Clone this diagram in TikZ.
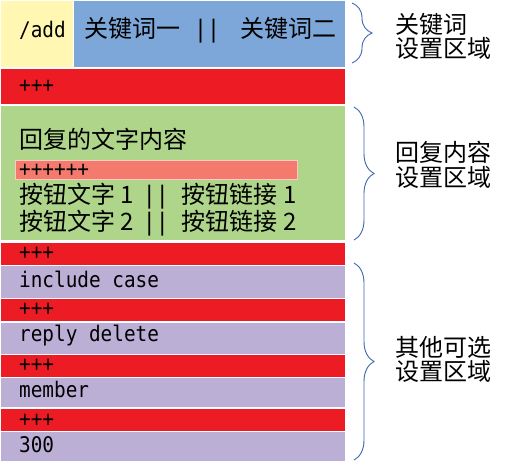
\documentclass[tikz,border=0pt]{standalone}
\usepackage{fontspec}
\setmainfont{Noto Sans CJK SC}
\newfontfamily\cjk{Noto Sans CJK SC}
\newfontfamily\monof[FakeStretch=0.9]{DejaVu Sans Mono}
\usetikzlibrary{decorations.pathreplacing}
\definecolor{cyel}{HTML}{FFF7B2}
\definecolor{cblue}{HTML}{7DA7D9}
\definecolor{cred}{HTML}{ED1C24}
\definecolor{cgreen}{HTML}{AFD58B}
\definecolor{csalmon}{HTML}{F47A6E}
\definecolor{cpurple}{HTML}{BCAFD6}
\definecolor{cbrace}{HTML}{3F68B0}
\begin{document}
\begin{tikzpicture}[x=1pt,y=-1pt,
  blk/.style={inner sep=0pt,outer sep=0pt,anchor=north west,draw=none},
  cj/.style={inner sep=0pt,font=\cjk\fontsize{24}{26}\selectfont},
  mo/.style={inner sep=0pt,font=\monof\fontsize{21.5}{24}\selectfont},
  lab/.style={inner sep=0pt,anchor=west,align=left,font=\cjk\fontsize{24}{24.5}\selectfont},
  brc/.style={draw=cbrace,line width=0.9pt,decorate,decoration={brace,amplitude=20pt}}]
\useasboundingbox (0,0) rectangle (520,462);
\fill[white] (0,0) rectangle (520,462);
% blocks
\node[blk,fill=cyel,minimum width=72pt,minimum height=66pt] (add) at (1,1) {};
\node[blk,fill=cblue,minimum width=271pt,minimum height=66pt] (kw) at (74,1) {};
\node[blk,fill=cred,minimum width=344pt,minimum height=35pt] (r1) at (1,69) {};
\node[blk,fill=cgreen,minimum width=344pt,minimum height=134pt] (gr) at (1,106) {};
\node[blk,fill=csalmon,draw=white!60!csalmon,line width=0.8pt,minimum width=282pt,minimum height=19pt] (sal) at (15,160.5) {};
\node[blk,fill=cred,minimum width=344pt,minimum height=22pt] (r2) at (1,243) {};
\node[blk,fill=cpurple,minimum width=344pt,minimum height=32pt] (p1) at (1,266) {};
\node[blk,fill=cred,minimum width=344pt,minimum height=22pt] (r3) at (1,299) {};
\node[blk,fill=cpurple,minimum width=344pt,minimum height=31pt] (p2) at (1,323) {};
\node[blk,fill=cred,minimum width=344pt,minimum height=22pt] (r4) at (1,355) {};
\node[blk,fill=cpurple,minimum width=344pt,minimum height=29pt] (p3) at (1,378) {};
\node[blk,fill=cred,minimum width=344pt,minimum height=22pt] (r5) at (1,409) {};
\node[blk,fill=cpurple,minimum width=344pt,minimum height=29pt] (p4) at (1,432) {};
% texts
\node[mo,anchor=base west] (tadd) at (19,38) {/add};
\node[cj,anchor=base west] (tkw) at (84,38) {关键词一\hspace{14pt}{\monof ||}\hspace{20pt}关键词二};
\node[mo,anchor=west] (tr1) at (19,86) {+++};
\node[cj,anchor=base west] (tre) at (19,149) {回复的文字内容};
\node[mo,anchor=west] (tsal) at (19,170.5) {++++++};
\node[cj,anchor=base west] (tb1) at (19,204) {按钮文字 1\hspace{9pt}{\monof ||}\hspace{13pt}按钮链接 1};
\node[cj,anchor=base west] (tb2) at (19,231) {按钮文字 2\hspace{9pt}{\monof ||}\hspace{13pt}按钮链接 2};
\node[mo,anchor=west] (tr2) at (19,253) {+++};
\node[mo,anchor=base west] (tp1) at (19,288) {include case};
\node[mo,anchor=west] (tr3) at (19,309) {+++};
\node[mo,anchor=base west] (tp2) at (19,342) {reply delete};
\node[mo,anchor=west] (tr4) at (19,365) {+++};
\node[mo,anchor=base west] (tp3) at (19,398) {member};
\node[mo,anchor=west] (tr5) at (19,420) {+++};
\node[mo,anchor=base west] (tp4) at (19,453) {300};
% braces
\coordinate (b1t) at (352,3);
\coordinate (b1b) at (352,63);
\coordinate (b2t) at (354,107);
\coordinate (b2b) at (354,240);
\coordinate (b3t) at (354,263);
\coordinate (b3b) at (354,460);
\draw[brc] (b1t) -- (b1b);
\draw[brc] (b2t) -- (b2b);
\draw[brc] (b3t) -- (b3b);
% labels
\node[lab] (l1) at (395,36.5) {关键词\\设置区域};
\node[lab] (l2) at (395,165) {回复内容\\设置区域};
\node[lab] (l3) at (395,359.5) {其他可选\\设置区域};
\end{tikzpicture}
\end{document}
